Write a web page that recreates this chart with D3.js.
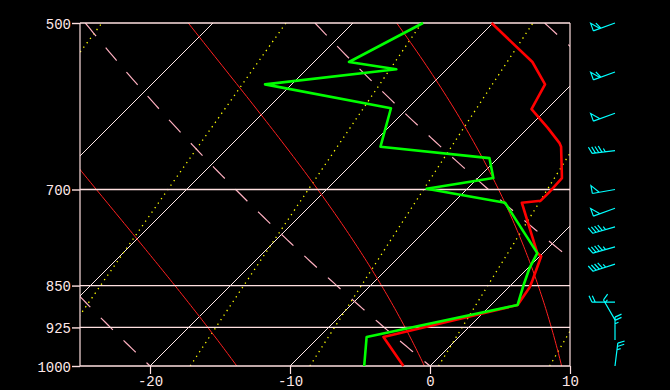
<!DOCTYPE html>
<html>
<head>
<meta charset="utf-8">
<script src="https://cdn.jsdelivr.net/npm/d3@7"></script>
<style>
body { margin: 0; background: #000; }
svg { display: block; background: #000; }
.axis text { font-family: "Liberation Mono", "DejaVu Sans Mono", monospace; font-size: 14px; fill: #ffe8e8; }
.axis line { stroke: #ffe0e0; }
</style>
</head>
<body>
<script>
// temperature profile (hPa, deg C)
var tempP = [500, 541, 566, 595, 618, 637, 642, 684, 703, 716, 719, 796, 801, 841, 853, 884, 943, 1000];
var tempT = [-20.1, -14.4, -11.9, -11.1, -8.6, -6.7, -6.3, -4.0, -3.9, -3.9, -5.1, -0.4, 0.1, 1.2, 1.5, 1.9, -5.4, -1.9];

// dewpoint profile
var dewP = [500, 541, 549, 566, 594, 642, 657, 684, 699, 719, 796, 820, 849, 884, 943, 1000];
var dewT = [-25.0, -27.5, -23.6, -31.9, -21.2, -19.2, -10.6, -8.9, -12.9, -6.3, -0.4, 0.1, 0.9, 1.9, -6.6, -4.7];

// winds (hPa, direction deg, speed kt)
var windP = [500, 552, 600, 647, 700, 727, 755, 786, 814, 879, 911, 949, 1000];
var windDir = [250, 250, 250, 263, 260, 250, 254, 254, 252, 270, 330, 360, 7];
var windSpd = [60, 60, 50, 45, 50, 50, 45, 45, 45, 20, 15, 25, 25];

// diagram background
var isobars = [500, 700, 850, 925, 1000];
var tempTicks = [-20, -10, 0, 10];
var isotherms = [-50, -40, -30, -20, -10, 0, 10];
var dryThetas = [253.15, 273.15, 293.15, 313.15];
var moistStarts = [-13.8, -0.4, 9.4, 17];
var mixRatios = [0.1, 0.4, 1, 2, 4, 7];

var width = 670, height = 390;
var plotL = 80, plotR = 570, plotT = 23, plotB = 366;

var svg = d3.select("body").append("svg")
    .attr("width", width)
    .attr("height", height);

var x = d3.scaleLinear().domain([-25, 10]).range([plotL, plotR]);
var y = d3.scaleLog().domain([1000, 500]).range([plotB, plotT]);

// 45 degree skew
function skewX(t, p) { return x(t) + (plotB - y(p)); }

var line = d3.line()
    .x(function(d) { return skewX(d[1], d[0]); })
    .y(function(d) { return y(d[0]); });

var pRange = d3.range(1000, 499, -5);

svg.append("clipPath").attr("id", "plot")
  .append("rect")
    .attr("x", plotL).attr("y", plotT)
    .attr("width", plotR - plotL).attr("height", plotB - plotT);

var bg = svg.append("g").attr("clip-path", "url(#plot)");

// isotherms
bg.selectAll(".iso")
  .data(isotherms)
  .enter().append("path")
    .attr("fill", "none")
    .attr("stroke", "#ffe8e8")
    .attr("stroke-width", 1)
    .attr("d", function(t) { return line([[1000, t], [500, t]]); });

// mixing ratio lines
function mixLine(w) {
  return pRange.map(function(p) {
    var es = p * w / (622 + w);
    var l = Math.log(es / 6.112);
    return [p, 243.5 * l / (17.67 - l)];
  });
}
bg.selectAll(".mix")
  .data(mixRatios)
  .enter().append("path")
    .attr("fill", "none")
    .attr("stroke", "#ffff00")
    .attr("stroke-width", 1.3)
    .attr("stroke-dasharray", "1.3,4.2")
    .attr("d", function(w) { return line(mixLine(w)); });

// dry adiabats, drawn from the top down
bg.selectAll(".dry")
  .data(dryThetas)
  .enter().append("path")
    .attr("fill", "none")
    .attr("stroke", "#ffb0c0")
    .attr("stroke-width", 1.2)
    .attr("stroke-dasharray", "17,15")
    .attr("d", function(th) {
      return line(pRange.slice().reverse().map(function(p) {
        return [p, th * Math.pow(p / 1000, 0.286) - 273.15];
      }));
    });

// saturated adiabats
function moistLine(t0) {
  var pts = [], t = t0 + 273.15;
  for (var p = 1000; p >= 500; p -= 1) {
    if (p % 5 == 0) pts.push([p, t - 273.15]);
    var tc = t - 273.15;
    var es = 6.112 * Math.exp(17.67 * tc / (tc + 243.5));
    var rs = 0.622 * es / (p - es);
    var num = 287.04 * t + 2.501e6 * rs;
    var den = 1005.7 + 2.501e6 * 2.501e6 * rs * 0.622 / (287.04 * t * t);
    t -= (num / den) / p;
  }
  return pts;
}
bg.selectAll(".moist")
  .data(moistStarts)
  .enter().append("path")
    .attr("fill", "none")
    .attr("stroke", "#ff2020")
    .attr("stroke-width", 1)
    .attr("d", function(t0) { return line(moistLine(t0)); });

// isobars
svg.selectAll(".isobar")
  .data(isobars)
  .enter().append("line")
    .attr("x1", plotL).attr("x2", plotR)
    .attr("y1", function(p) { return y(p); })
    .attr("y2", function(p) { return y(p); })
    .attr("stroke", "#ffe0e0")
    .attr("stroke-width", 1.4);

// frame sides
svg.append("line")
    .attr("x1", plotL).attr("x2", plotL).attr("y1", plotT).attr("y2", plotB)
    .attr("stroke", "#ffe0e0").attr("stroke-width", 1.2);
svg.append("line")
    .attr("x1", plotR).attr("x2", plotR).attr("y1", plotT).attr("y2", plotB)
    .attr("stroke", "#ffe0e0").attr("stroke-width", 1.2);

// axes
var yAxis = svg.append("g")
    .attr("class", "axis")
    .attr("transform", "translate(" + plotL + ",0)")
    .call(d3.axisLeft(y).tickValues(isobars).tickSize(8).tickFormat(d3.format("d")));
yAxis.select(".domain").remove();
yAxis.selectAll("text").attr("x", -9).attr("dy", 5);
yAxis.selectAll("line").attr("stroke-width", 1.4);

var xAxis = svg.append("g")
    .attr("class", "axis")
    .attr("transform", "translate(0," + plotB + ")")
    .call(d3.axisBottom(x).tickValues(tempTicks).tickSize(8).tickFormat(function(d) { return String(d); }));
xAxis.select(".domain").remove();
xAxis.selectAll("text").attr("y", 20).attr("dy", 0);
xAxis.selectAll("line").attr("stroke-width", 1.2);

// sounding
var tempData = tempP.map(function(p, i) { return [p, tempT[i]]; });
var dewData = dewP.map(function(p, i) { return [p, dewT[i]]; });

svg.append("path")
    .datum(tempData)
    .attr("fill", "none")
    .attr("stroke", "#ff0000")
    .attr("stroke-width", 2.6)
    .attr("stroke-linejoin", "round")
    .attr("d", line);

svg.append("path")
    .datum(dewData)
    .attr("fill", "none")
    .attr("stroke", "#00ff00")
    .attr("stroke-width", 2.6)
    .attr("stroke-linejoin", "round")
    .attr("d", line);

// wind barbs
var barbX = 615, staff = 23;
function barbPath(p, dir, spd) {
  var a = dir * Math.PI / 180;
  var ux = Math.sin(a), uy = -Math.cos(a);
  var nx = -uy, ny = ux;
  var oy = y(p);
  function pt(d, s) { return [barbX + ux * d + nx * s, oy + uy * d + ny * s]; }
  var path = d3.path();
  var o = pt(0, 0), e = pt(staff, 0);
  path.moveTo(o[0], o[1]); path.lineTo(e[0], e[1]);
  var d = staff, v = Math.round(spd / 5) * 5;
  while (v >= 50) {
    var a1 = pt(d, 0), a2 = pt(d, 8), a3 = pt(d - 7, 0);
    path.moveTo(a1[0], a1[1]); path.lineTo(a2[0], a2[1]); path.lineTo(a3[0], a3[1]);
    d -= 8; v -= 50;
  }
  while (v >= 10) {
    var b1 = pt(d, 0), b2 = pt(d + 3, 6.5);
    path.moveTo(b1[0], b1[1]); path.lineTo(b2[0], b2[1]);
    d -= 3.3; v -= 10;
  }
  if (v >= 5) {
    var c1 = pt(d, 0), c2 = pt(d + 1.5, 3.5);
    path.moveTo(c1[0], c1[1]); path.lineTo(c2[0], c2[1]);
  }
  return path.toString();
}

svg.append("g")
  .selectAll("path")
  .data(windP)
  .enter().append("path")
    .attr("fill", "none")
    .attr("stroke", "#00ffff")
    .attr("stroke-width", 1.2)
    .attr("d", function(p, i) { return barbPath(p, windDir[i], windSpd[i]); });
</script>
</body>
</html>
